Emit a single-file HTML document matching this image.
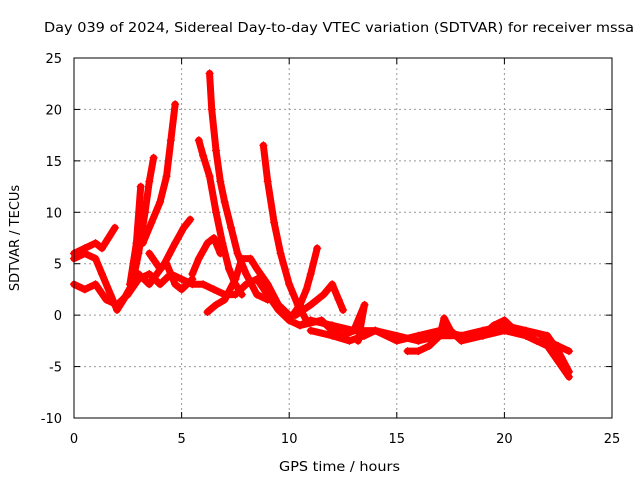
<!DOCTYPE html>
<html><head><meta charset="utf-8"><style>
body{margin:0;background:#fff;}
svg{display:block;font-family:"DejaVu Sans","Liberation Sans",sans-serif;}
</style></head><body>
<svg id="chart" width="640" height="480" viewBox="0 0 640 480">
<text x="44" y="32" font-size="13" textLength="590" lengthAdjust="spacingAndGlyphs" fill="#000">Day 039 of 2024, Sidereal Day-to-day VTEC variation (SDTVAR) for receiver mssa</text>
<text x="279" y="471" font-size="13" textLength="121" lengthAdjust="spacingAndGlyphs">GPS time / hours</text>
<text transform="translate(19,238) rotate(-90)" font-size="13" text-anchor="middle">SDTVAR / TECUs</text>
<g id="grid"></g>
<g id="ticks"></g>
<g id="series"></g>
<rect x="74" y="58" width="538" height="360" fill="none" stroke="#000" stroke-width="1"/>
</svg>
<script>
const xTicks=[0,5,10,15,20,25];
const yTicks=[-10,-5,0,5,10,15,20,25];
const trackA=[[0,3],[0.5,2.5],[1,3],[1.5,1.5],[2,1],[2.5,2],[3,3.5],[3.5,4],[4,3],[4.5,4],[5,3.5],[5.5,3],[6,3],[6.5,2.5],[7,2],[7.5,2],[8,3],[8.5,3.5],[9,2],[9.5,0.5],[10,-0.5],[10.5,-1],[11,-0.5],[12,-1],[13,-1.5],[14,-1.5],[15,-2],[16,-2.5],[17,-2],[18,-2],[19,-2],[20,-1.5],[21,-2],[22,-3],[22.5,-4.5],[23,-6]];
const trackB=[[0,5.5],[0.5,6],[1,5.5],[1.3,4],[1.7,2],[2,0.5],[2.3,1.5],[2.7,3],[3,6],[3.3,10],[3.5,13],[3.7,15.3]];
const trackB2=[[2.6,3],[2.9,7],[3.1,12.5]];
const trackB3=[[3.2,7],[3.6,9],[4,11],[4.3,13.5],[4.5,17],[4.7,20.5]];
const trackC=[[0,6],[0.5,6.5],[1,7],[1.3,6.5],[1.6,7.5],[1.9,8.5]];
const trackD=[[3.5,6],[4,4.5],[4.3,5],[4.7,3],[5,2.5],[5.5,3.5]];
const trackE=[[3.0,4],[3.5,3],[4.2,5],[4.7,7],[5.1,8.5],[5.4,9.3]];
const trackF=[[6.3,23.5],[6.4,20],[6.6,16],[6.8,13],[7,11],[7.3,8.5],[7.6,6],[8,4],[8.5,2],[9,1.5]];
const trackG=[[5.8,17],[6,15.5],[6.3,13.5],[6.6,10],[6.9,7],[7.2,4.5],[7.5,3],[7.8,2]];
const trackH=[[5.5,4],[5.8,5.5],[6.2,7],[6.5,7.5],[6.8,6]];
const trackH2=[[6.2,0.3],[6.6,1],[7,1.5],[7.5,3.5],[7.8,5.5],[8.2,5.5],[8.5,4.5],[9,3],[9.5,1],[10,0]];
const trackI=[[8.8,16.5],[9,13],[9.3,9],[9.6,6],[10,3],[10.4,1],[10.8,-0.5]];
const trackJ=[[10,-0.5],[10.5,1],[10.8,2.5],[11,4],[11.3,6.5]];
const trackL=[[10.3,0],[11,1],[11.6,2],[12,3],[12.3,1.5],[12.5,0.5]];
const trackM=[[10.5,-1],[11.5,-0.5],[12,-1.5],[12.5,-2],[13,-1.5],[13.5,1],[13.2,-2.5]];
const trackN=[[15.5,-3.5],[16,-3.5],[16.5,-3],[17,-2],[17.2,-0.3],[17.5,-1.5],[18,-2.5],[19,-2],[19.5,-1],[20,-0.5],[20.5,-1.5],[21,-2],[21.5,-2.5],[22,-2.5],[22.5,-3],[23,-3.5]];
const trackP=[[11,-1.5],[12,-2],[12.8,-2.5],[13.5,-2],[14,-1.5],[15,-2.5],[16,-2],[17,-1.5],[18,-2],[19,-1.5],[20,-1],[21,-1.5],[22,-2],[22.5,-3.5],[23,-5.5]];
const tracks=[trackA,trackB,trackB2,trackB3,trackC,trackD,trackE,trackF,trackG,trackH,trackH2,trackI,trackJ,trackL,trackM,trackN,trackP];
const NS="http://www.w3.org/2000/svg";
const X=v=>74+v*538/25, Y=v=>418-(v+10)*360/35;
const grid=document.getElementById('grid'),ticks=document.getElementById('ticks'),ser=document.getElementById('series');
function mk(tag,attrs,parent){const e=document.createElementNS(NS,tag);for(const k in attrs)e.setAttribute(k,attrs[k]);parent.appendChild(e);return e;}
xTicks.forEach(t=>{
 if(t>0&&t<25){const g=mk('line',{x1:X(t),x2:X(t),y1:58,y2:418,stroke:'#999','stroke-dasharray':'2,3'},grid);}
 const tx=mk('text',{x:X(t),y:443,'font-size':13,'text-anchor':'middle'},ticks);tx.textContent=t;
 
 
 mk('line',{x1:X(t),x2:X(t),y1:418,y2:412,stroke:'#000'},ticks);mk('line',{x1:X(t),x2:X(t),y1:58,y2:64,stroke:'#000'},ticks);
});
yTicks.forEach(t=>{
 if(t>-10&&t<25){const g=mk('line',{x1:74,x2:612,y1:Y(t),y2:Y(t),stroke:'#999','stroke-dasharray':'2,3'},grid);}
 const tx=mk('text',{x:62,y:Y(t)+5,'font-size':13,'text-anchor':'end'},ticks);tx.textContent=t;
 
 
 mk('line',{x1:74,x2:80,y1:Y(t),y2:Y(t),stroke:'#000'},ticks);mk('line',{x1:612,x2:606,y1:Y(t),y2:Y(t),stroke:'#000'},ticks);
});
tracks.forEach(tr=>{
 const pl=mk('polyline',{points:tr.map(p=>X(p[0])+','+Y(p[1])).join(' '),fill:'none',stroke:'#f00','stroke-width':7,'stroke-linejoin':'round','stroke-linecap':'round'},ser);
 
 
 tr.forEach(p=>{
  const m=mk('path',{d:`M${X(p[0])-4},${Y(p[1])}h8M${X(p[0])},${Y(p[1])-4}v8`,stroke:'#f00','stroke-width':1.2},ser);
  
  
 });
});
</script>
</body></html>
